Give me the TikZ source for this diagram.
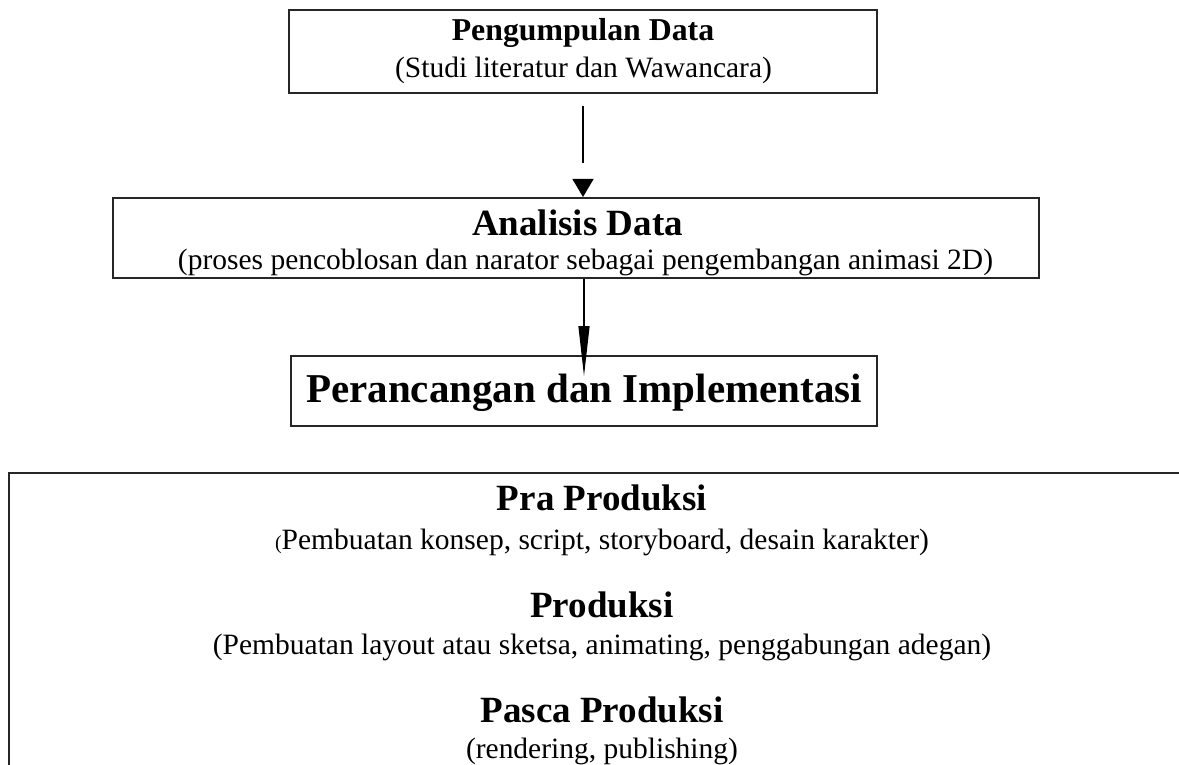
\documentclass[tikz,border=0pt]{standalone}
\usepackage{fontspec}
\setmainfont{Liberation Serif}
\usetikzlibrary{arrows.meta,positioning,calc}

\begin{document}
\begin{tikzpicture}[x=0.5pt, y=-0.5pt,
  box/.style={draw=black!85, line width=1pt, rectangle, inner sep=0pt},
  head/.style={font=\fontsize{18.5}{22}\selectfont\bfseries, anchor=base, inner sep=0pt},
  note/.style={font=\fontsize{14.75}{18}\selectfont, anchor=base, inner sep=0pt},
  flow/.style={line width=0.6pt, black}
]
\clip (0,0) rectangle (1179,765);

% pengumpulan data
\node[box, minimum width=294pt, minimum height=41.5pt] (PD) at (583,51.5) {};
\node[head, font=\fontsize{15.9}{19}\selectfont\bfseries] (PDt) at (583,41) {Pengumpulan Data};
\node[note] (PDs) at (583.5,78) {(Studi literatur dan Wawancara)};

% analisis data
\node[box, minimum width=463pt, minimum height=40pt] (AD) at (576,238) {};
\node[head] (ADt) at (577.5,235) {Analisis Data};
\node[note] (ADs) at (585.5,270) {(proses pencoblosan dan narator sebagai pengembangan animasi 2D)};

% perancangan dan implementasi
\node[box, minimum width=293pt, minimum height=35pt] (PI) at (584,391) {};
\node[head, font=\fontsize{20.5}{24}\selectfont\bfseries] (PIt) at (584,402) {Perancangan dan Implementasi};

% tahapan produksi
\node[box, minimum width=610pt, minimum height=171pt] (TP) at (619,644) {};
\node[head] (PRt) at (602,510) {Pra Produksi};
\node[note] (PRs) at (602,549) {{\fontsize{10}{12}\selectfont(}Pembuatan konsep, script, storyboard, desain karakter)};
\node[head] (PKt) at (602,617) {Produksi};
\node[note] (PKs) at (602,654) {(Pembuatan layout atau sketsa, animating, penggabungan adegan)};
\node[head] (PSt) at (602,722) {Pasca Produksi};
\node[note] (PSs) at (602,758) {(rendering, publishing)};

% arrows
\draw[flow, dash pattern=on 28.5pt off 200pt, shorten <=6pt,
  -{Triangle[length=9pt,width=10.5pt]}] (PD.south) -- (PD.south |- AD.north);
\draw[flow, -{Triangle[length=25pt,width=5.5pt]}]
  (PI.north |- AD.south) -- ([yshift=-10.5pt]PI.north);
\end{tikzpicture}
\end{document}
